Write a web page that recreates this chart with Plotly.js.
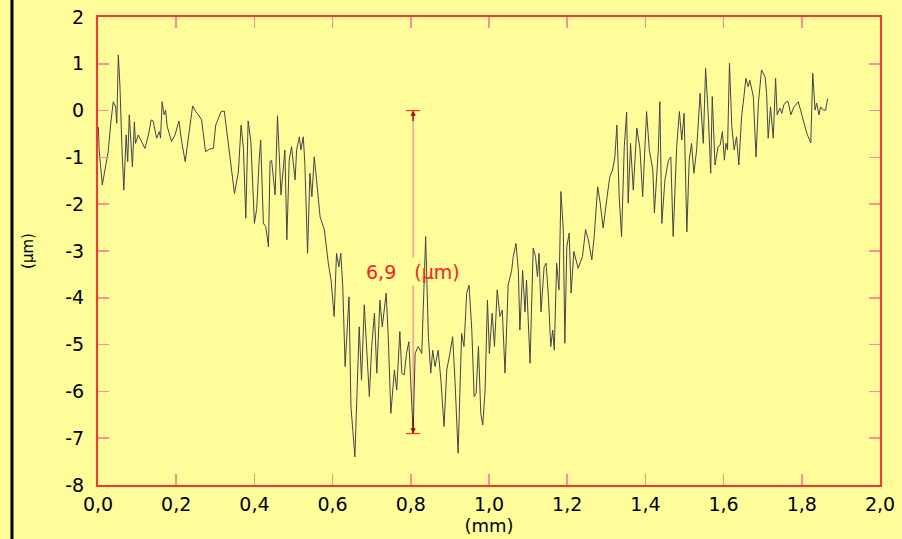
<!DOCTYPE html>
<html>
<head>
<meta charset="utf-8">
<script src="https://cdn.plot.ly/plotly-3.0.1.min.js"></script>
<style>html,body{margin:0;padding:0;background:#FFFD99;}</style>
</head>
<body>
<div id="chart" style="width:902px;height:539px;"></div>
<script>
// Profile: position (mm) and height (µm)
const positionMm = [0.001,0.003,0.011,0.026,0.033,0.039,0.045,0.048,0.052,0.056,0.061,0.066,0.072,0.076,0.080,0.084,0.088,0.093,0.096,0.103,
0.112,0.120,0.129,0.136,0.141,0.150,0.157,0.160,0.164,0.169,0.173,0.177,0.188,0.197,0.207,0.214,0.223,0.233,0.242,0.250,
0.257,0.265,0.275,0.286,0.295,0.301,0.309,0.315,0.323,0.333,0.349,0.359,0.366,0.372,0.378,0.384,0.391,0.400,0.406,0.412,
0.416,0.423,0.429,0.436,0.440,0.444,0.453,0.459,0.468,0.478,0.483,0.489,0.495,0.504,0.508,0.515,0.519,0.525,0.529,0.536,
0.542,0.547,0.553,0.559,0.568,0.579,0.589,0.596,0.604,0.610,0.616,0.621,0.626,0.632,0.636,0.642,0.647,0.657,0.668,0.674,
0.681,0.687,0.694,0.700,0.707,0.713,0.721,0.727,0.737,0.742,0.749,0.758,0.764,0.772,0.777,0.783,0.789,0.795,0.806,0.811,
0.819,0.828,0.838,0.845,0.851,0.856,0.862,0.870,0.877,0.885,0.892,0.900,0.907,0.913,0.921,0.930,0.936,0.943,0.949,0.956,
0.962,0.967,0.973,0.979,0.984,0.990,0.996,1.001,1.008,1.014,1.021,1.028,1.034,1.041,1.049,1.058,1.062,1.069,1.075,1.079,
1.086,1.092,1.096,1.105,1.113,1.119,1.124,1.128,1.133,1.141,1.146,1.152,1.158,1.163,1.167,1.173,1.179,1.184,1.190,1.194,
1.199,1.205,1.210,1.217,1.228,1.239,1.247,1.254,1.263,1.269,1.278,1.284,1.292,1.301,1.309,1.316,1.322,1.327,1.333,1.339,
1.346,1.352,1.356,1.362,1.369,1.378,1.386,1.393,1.399,1.403,1.410,1.419,1.423,1.429,1.433,1.437,1.442,1.450,1.459,1.465,
1.471,1.480,1.487,1.493,1.499,1.506,1.512,1.518,1.524,1.531,1.540,1.548,1.554,1.561,1.567,1.571,1.578,1.586,1.591,1.597,
1.602,1.606,1.610,1.615,1.621,1.627,1.633,1.639,1.646,1.652,1.657,1.663,1.667,1.676,1.683,1.689,1.697,1.706,1.710,1.714,
1.720,1.727,1.733,1.737,1.744,1.749,1.754,1.760,1.765,1.772,1.780,1.791,1.804,1.813,1.823,1.828,1.834,1.838,1.844,1.848,
1.855,1.861,1.866];
const heightUm = [-0.35,-0.84,-1.59,-0.88,-0.24,0.19,0.08,-0.27,1.19,0.55,-0.74,-1.70,-0.52,-1.09,-0.09,-0.74,-1.20,-0.24,-0.70,-0.52,
-0.66,-0.81,-0.52,-0.20,-0.22,-0.59,-0.45,-0.59,0.19,-0.09,0.01,-0.34,-0.66,-0.52,-0.22,-0.66,-1.09,-0.52,0.10,-0.02,
-0.09,-0.20,-0.88,-0.82,-0.81,-0.31,-0.13,-0.02,-0.01,-0.74,-1.77,-1.31,-0.31,-0.81,-2.30,-0.22,-0.66,-2.41,-2.09,-1.09,
-0.63,-2.41,-2.48,-2.91,-1.09,-1.06,-1.80,-0.11,-1.80,-0.84,-2.76,-1.06,-0.77,-1.48,-0.84,-0.56,-0.84,-0.56,-1.13,-3.05,
-1.34,-1.84,-0.99,-1.48,-2.27,-2.55,-3.26,-3.62,-4.40,-3.05,-3.34,-3.05,-3.76,-5.47,-4.76,-3.98,-6.33,-7.40,-4.62,-5.76,
-4.15,-5.12,-6.11,-5.04,-4.33,-5.61,-4.05,-4.62,-3.90,-4.76,-6.47,-5.54,-5.97,-4.72,-5.61,-5.65,-5.19,-4.94,-6.90,-5.19,
-5.04,-5.19,-2.69,-4.83,-5.61,-5.12,-5.47,-5.12,-5.76,-6.75,-5.54,-5.19,-4.83,-5.76,-7.32,-4.76,-5.04,-3.90,-3.73,-4.69,
-6.11,-6.04,-5.04,-6.47,-6.72,-5.97,-4.05,-5.19,-4.33,-5.04,-3.83,-4.40,-4.26,-5.61,-3.73,-3.41,-3.12,-2.84,-3.41,-4.69,
-3.41,-4.30,-3.62,-5.40,-2.94,-3.12,-3.55,-3.05,-4.30,-3.34,-3.26,-3.98,-5.04,-4.69,-5.12,-3.26,-3.83,-1.73,-2.55,-4.97,
-2.91,-2.62,-3.90,-3.01,-3.37,-3.12,-2.54,-2.76,-3.19,-2.69,-1.63,-1.95,-2.51,-1.91,-1.41,-1.27,-0.99,-0.31,-1.84,-2.69,
-0.77,-0.03,-1.98,-0.70,-1.70,-0.37,-0.81,-1.84,-0.49,-0.02,-0.84,-1.27,-2.19,-1.34,-0.84,0.19,-2.41,-1.48,-1.06,-0.99,
-2.69,-0.77,-0.02,-0.63,-0.06,-2.59,-1.06,-0.70,-1.34,-0.84,0.37,-0.70,0.90,-0.13,-1.34,0.30,-1.16,-0.77,-0.74,-0.45,
-1.06,-0.70,-0.84,1.01,-0.34,-0.84,-0.56,-1.16,-0.13,0.30,0.69,0.51,0.65,0.30,-0.99,0.16,0.87,0.72,0.37,-0.59,
0.08,-0.59,0.69,-0.09,0.05,-0.06,0.12,0.19,0.19,-0.09,0.08,0.19,-0.20,-0.49,-0.69,0.80,0.01,0.16,-0.09,0.08,
0.01,0.01,0.26];

// Depth measurement marker
const depthPosMm = [0.806];
const depthRangeUm = [0, -6.9];
const depthLabel = ['6,9\u00a0\u00a0\u00a0(µm)'];
const depthLabelUm = [-3.44];

// Axis ticks
const xTicks = [0, 0.2, 0.4, 0.6, 0.8, 1.0, 1.2, 1.4, 1.6, 1.8, 2.0];
const xTickText = ['0,0', '0,2', '0,4', '0,6', '0,8', '1,0', '1,2', '1,4', '1,6', '1,8', '2,0'];
const yTicks = [-8, -7, -6, -5, -4, -3, -2, -1, 0, 1, 2];
const yTickText = ['-8', '-7', '-6', '-5', '-4', '-3', '-2', '-1', '0', '1', '2'];

const BG = '#FFFD99';
const AX = '#FF3333';
const TK = '#FF9090';
const FONT = 'DejaVu Sans, Liberation Sans, Arial, sans-serif';

const trace = {
  x: positionMm, y: heightUm, type: 'scatter', mode: 'lines',
  line: {color: '#44444f', width: 1}, hoverinfo: 'x+y', showlegend: false
};

const axisCommon = {
  showgrid: false, zeroline: false, showline: true, linecolor: AX, linewidth: 2,
  mirror: 'ticks', ticks: 'inside', ticklen: 11, tickwidth: 1.5, tickcolor: TK,
  tickfont: {family: FONT, size: 19, color: '#000'}, automargin: false
};

const layout = {
  width: 902, height: 539,
  margin: {l: 98, r: 22, t: 17, b: 54, pad: 0},
  paper_bgcolor: BG, plot_bgcolor: BG,
  separators: ',.',
  font: {family: FONT, color: '#000'},
  xaxis: Object.assign({}, axisCommon, {
    range: [0, 2], tickmode: 'array', tickvals: xTicks, ticktext: xTickText,
    ticklabelstandoff: 1,
    title: {text: '(mm)', font: {family: FONT, size: 18, color: '#000'}, standoff: 5}
  }),
  yaxis: Object.assign({}, axisCommon, {
    range: [-8, 2], tickmode: 'array', tickvals: yTicks, ticktext: yTickText,
    ticklabelstandoff: 8,
    title: {text: '(µm)', font: {family: FONT, size: 15, color: '#000'}, standoff: 28}
  }),
  shapes: [
    // black frame line at left edge of the picture
    {type: 'line', xref: 'paper', yref: 'paper', x0: -0.11, x1: -0.11, y0: -0.2, y1: 1.1,
     line: {color: '#000', width: 3}},
    // depth measurement line
    {type: 'line', xref: 'x', yref: 'y', layer: 'below',
     x0: depthPosMm[0], x1: depthPosMm[0], y0: depthRangeUm[0], y1: depthRangeUm[1],
     line: {color: '#FF9A9A', width: 1.5}},
    // gap behind label
    {type: 'rect', xref: 'x', yref: 'y', layer: 'below',
     xsizemode: 'pixel', ysizemode: 'pixel', xanchor: depthPosMm[0], yanchor: depthLabelUm[0],
     x0: -6, x1: 6, y0: -14, y1: 14, fillcolor: BG, line: {width: 0}},
    // end caps
    {type: 'line', xref: 'x', yref: 'y', xsizemode: 'pixel', xanchor: depthPosMm[0],
     x0: -7, x1: 7, y0: depthRangeUm[0], y1: depthRangeUm[0], line: {color: '#FF3333', width: 1.2}},
    {type: 'line', xref: 'x', yref: 'y', xsizemode: 'pixel', xanchor: depthPosMm[0],
     x0: -7, x1: 7, y0: depthRangeUm[1], y1: depthRangeUm[1], line: {color: '#FF3333', width: 1.2}}
  ],
  annotations: [
    {x: depthPosMm[0], y: depthRangeUm[0], xref: 'x', yref: 'y', text: '', showarrow: true,
     ax: 0, ay: 12, arrowhead: 2, arrowsize: 0.8, arrowwidth: 1.3, arrowcolor: '#B00000', standoff: 0},
    {x: depthPosMm[0], y: depthRangeUm[1], xref: 'x', yref: 'y', text: '', showarrow: true,
     ax: 0, ay: -18, arrowhead: 2, arrowsize: 0.8, arrowwidth: 1.3, arrowcolor: '#A00000', standoff: 0},
    {x: depthPosMm[0], y: depthLabelUm[0], xref: 'x', yref: 'y', text: depthLabel[0], showarrow: false,
     font: {family: FONT, size: 19, color: '#FF2020'}, xanchor: 'center', yanchor: 'middle'}
  ]
};

Plotly.newPlot('chart', [trace], layout, {displayModeBar: false, staticPlot: true});
</script>
</body>
</html>
